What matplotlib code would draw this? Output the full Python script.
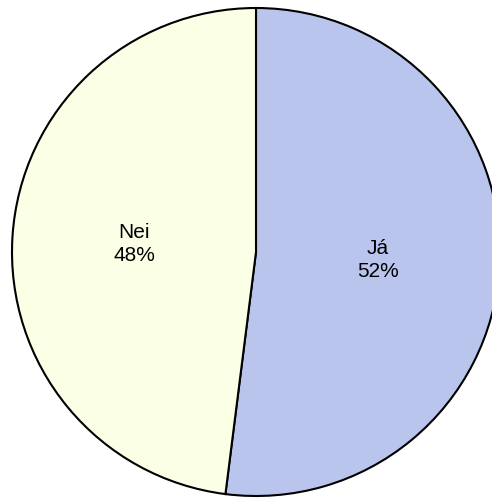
import matplotlib
matplotlib.use("Agg")
import matplotlib.pyplot as plt

# answers and their shares
labels = ["Já", "Nei"]
values = [52, 48]
colors = ["#B9C5ED", "#FBFFE6"]

plt.rcParams['font.family'] = ['Liberation Sans Narrow', 'Liberation Sans', 'DejaVu Sans']

fig = plt.figure(figsize=(4.92, 4.98), dpi=100)
ax = fig.add_axes([0, 0, 1, 1])

# work in pixel units so the pie lands where it does in the reference
wedges, texts = ax.pie(values, colors=colors, startangle=90, counterclock=False,
                       radius=244, center=(256, 498 - 252),
                       wedgeprops=dict(edgecolor="black", linewidth=1.5),
                       labels=[f"{l}\n{v:.0f}%" for l, v in zip(labels, values)],
                       labeldistance=0.5,
                       textprops=dict(fontsize=15, ha="center", va="center",
                                      multialignment="center", linespacing=1.25))

ax.set_xlim(0, 492)
ax.set_ylim(0, 498)
ax.set_aspect("equal")
ax.axis("off")

fig.savefig("out.png", dpi=100)
